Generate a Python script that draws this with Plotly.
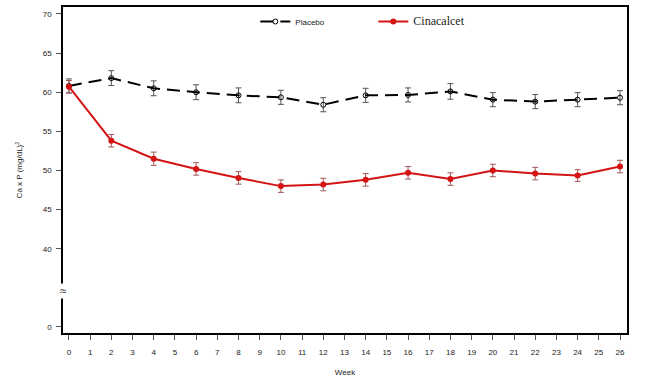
import plotly.graph_objects as go

weeks = [0, 2, 4, 6, 8, 10, 12, 14, 16, 18, 20, 22, 24, 26]
placebo = [60.8, 61.8, 60.5, 60.0, 59.6, 59.35, 58.4, 59.6, 59.65, 60.1, 59.05, 58.8, 59.05, 59.3]
placebo_err = [0.9, 0.95, 0.95, 0.95, 0.95, 0.9, 0.9, 0.9, 0.9, 1.0, 0.9, 0.9, 0.9, 0.9]
cinacalcet = [60.7, 53.8, 51.5, 50.2, 49.05, 48.0, 48.2, 48.8, 49.7, 48.9, 50.0, 49.6, 49.35, 50.5]
cinacalcet_err = [0.8, 0.8, 0.85, 0.8, 0.8, 0.8, 0.8, 0.8, 0.8, 0.8, 0.8, 0.8, 0.75, 0.8]

x_ticks = list(range(0, 27))
y_tick_labels = ["0", "40", "45", "50", "55", "60", "65", "70"]
y_tick_pos = [30, 40, 45, 50, 55, 60, 65, 70]  # 0 is drawn below the axis break

fig = go.Figure()
fig.add_trace(go.Scatter(
    x=weeks, y=placebo, name="Placebo", mode="lines+markers",
    line=dict(color="black", width=2, dash="13px,7px"),
    marker=dict(symbol="circle-open", size=5, color="black", line=dict(width=1)),
    error_y=dict(type="data", array=placebo_err, color="#555555", thickness=1, width=3),
))
fig.add_trace(go.Scatter(
    x=weeks, y=cinacalcet,
    name="<span style='font-family:Liberation Serif, Times New Roman, serif; font-size:12px'>Cinacalcet</span>",
    mode="lines+markers",
    line=dict(color="#d41414", width=2),
    marker=dict(symbol="circle", size=6, color="#d41414"),
    error_y=dict(type="data", array=cinacalcet_err, color="#a05858", thickness=1, width=3),
))

fig.add_annotation(x=0, xref="paper", y=34.6, yref="y", text="≈", showarrow=False,
                   font=dict(size=12, color="#333"), bgcolor="white", borderpad=0,
                   xanchor="center", yanchor="middle")

fig.update_layout(
    width=654, height=383,
    margin=dict(l=63, r=27, t=7, b=50, autoexpand=False),
    paper_bgcolor="white", plot_bgcolor="white",
    font=dict(family="Liberation Sans, Arial, sans-serif", size=8, color="#222"),
    showlegend=True,
    legend=dict(orientation="h", x=0.341, y=1.0, xanchor="left", yanchor="top",
                bgcolor="rgba(0,0,0,0)", font=dict(size=8, color="#222"),
                entrywidth=73, tracegroupgap=0),
    xaxis=dict(range=[-0.28, 26.33], tickmode="array", tickvals=x_ticks,
               ticktext=[str(v) for v in x_ticks],
               showline=True, linecolor="black", linewidth=1.5, mirror=True,
               ticks="outside", ticklen=5, tickcolor="#555", showgrid=False, zeroline=False,
               ticklabelstandoff=6,
               title=dict(text="Week", font=dict(size=8), standoff=13),
               tickfont=dict(size=8, color="#222")),
    yaxis=dict(range=[29.23, 70.89], tickmode="array", tickvals=y_tick_pos, ticktext=y_tick_labels,
               showline=True, linecolor="black", linewidth=1.5, mirror=True,
               ticks="outside", ticklen=5, tickcolor="#555", showgrid=False, zeroline=False,
               ticklabelstandoff=3,
               title=dict(text="Ca x P (mg/dL)<sup>2</sup>", font=dict(size=8), standoff=19),
               tickfont=dict(size=8, color="#222")),
)

fig.write_html("out.html", config={"displayModeBar": False},
               post_script="document.body.style.margin='0';")
